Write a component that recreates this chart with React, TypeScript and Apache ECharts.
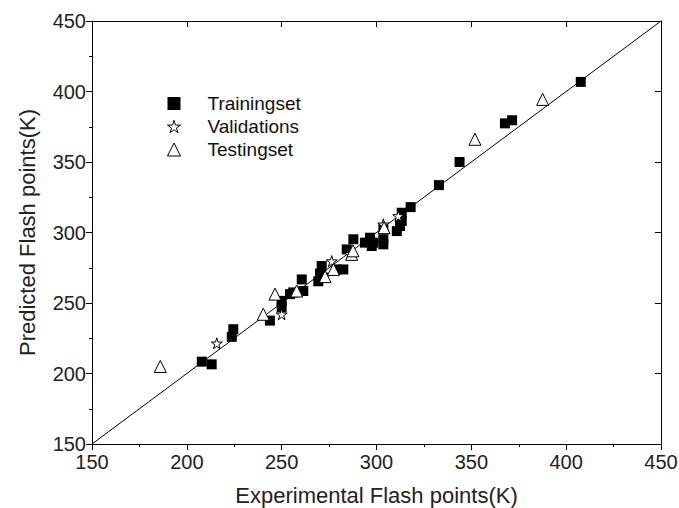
import React, { useEffect, useRef } from "react";
import * as echarts from "echarts";

const trainingSet: number[][] = [
  [207.9, 208.4], [213.1, 206.5], [223.7, 226], [224.5, 231.4], [243.8, 237.5],
  [250, 247], [250, 251.5], [254.4, 256.3], [256.1, 257.5], [260.6, 266.7],
  [261.4, 258.5], [269.3, 265.4], [270.2, 270.9], [271.1, 276.2], [272, 268],
  [279, 273.8], [282.5, 273.8], [284.3, 288], [287.8, 295.2], [293.9, 292.8],
  [296.6, 296.3], [297.5, 290.4], [298.3, 292.8], [303.6, 302.3], [303.6, 295.2],
  [303.6, 291.6], [310.7, 301], [312.4, 304.6], [313.3, 308.2], [313.3, 314],
  [318, 318], [332.9, 333.6], [343.8, 350], [367.7, 377.4], [371.5, 379.6],
  [407.7, 406.8],
];
const validationSet: number[][] = [
  [215.8, 221.4], [250, 242], [276.4, 279.7], [286, 285], [303.6, 305.8], [311.5, 311.7],
];
const testingSet: number[][] = [
  [186, 205], [240.3, 242], [246.5, 256.3], [257.9, 258.5], [272.9, 268.7],
  [277.3, 273.8], [286.9, 284.5], [287.6, 287], [304, 303.4], [351.9, 366.1],
  [387.6, 394.4],
];
const diagonal: number[][] = [[150, 150], [450, 450]];
const axisMin = 150;
const axisMax = 450;
const axisStep = 50;

const STAR = "path://M50,0 L61,35 L98,35 L68,57 L79,91 L50,70 L21,91 L32,57 L2,35 L39,35 Z";
const FONT = "Liberation Sans";

export default function App() {
  const ref = useRef<HTMLDivElement>(null);
  useEffect(() => {
    if (!ref.current) return;
    const chart = echarts.init(ref.current, null, { renderer: "svg" });
    const mainAxis = (name: string, isY: boolean) => ({
      type: "value",
      min: axisMin,
      max: axisMax,
      interval: axisStep,
      name,
      nameLocation: "middle",
      nameGap: isY ? 54 : 40,
      nameTextStyle: { fontSize: 22, color: "#222", fontFamily: FONT },
      axisLine: { show: true, onZero: false, lineStyle: { color: "#000", width: 1 } },
      axisTick: { show: true, inside: false, length: 6, lineStyle: { color: "#000" } },
      minorTick: { show: true, splitNumber: 2, length: 3, lineStyle: { color: "#000" } },
      axisLabel: { fontSize: 20, color: "#222", fontFamily: FONT, margin: isY ? 6 : 8 },
      splitLine: { show: false },
    });
    const mirrorAxis = (pos: string) => ({
      type: "value",
      position: pos,
      min: axisMin,
      max: axisMax,
      interval: axisStep,
      axisLine: { show: true, onZero: false, lineStyle: { color: "#000", width: 1 } },
      axisTick: { show: true, inside: true, length: 6, lineStyle: { color: "#000" } },
      minorTick: { show: false },
      axisLabel: { show: false },
      splitLine: { show: false },
    });
    chart.setOption({
      animation: false,
      backgroundColor: "#fff",
      grid: { left: 92, right: 18, top: 21, bottom: 64, outerBoundsMode: "none", containLabel: false },
      legend: {
        orient: "vertical",
        left: 162,
        top: 89,
        itemWidth: 13,
        itemHeight: 13,
        itemGap: 4,
        textStyle: { fontSize: 19, color: "#111", fontFamily: FONT, padding: [0, 0, 0, 22] },
        data: [
          { name: "Trainingset", icon: "rect", itemStyle: { color: "#000", opacity: 1 } },
          { name: "Validations", icon: STAR, itemStyle: { color: "#fff", borderColor: "#000", borderWidth: 1 } },
          { name: "Testingset", icon: "triangle", itemStyle: { color: "#fff", borderColor: "#000", borderWidth: 1 } },
        ],
      },
      xAxis: [mainAxis("Experimental Flash points(K)", false), mirrorAxis("top")],
      yAxis: [mainAxis("Predicted Flash points(K)", true), mirrorAxis("right")],
      series: [
        {
          type: "line",
          data: diagonal,
          showSymbol: false,
          symbol: "none",
          lineStyle: { color: "#000", width: 1 },
          silent: true,
          z: 1,
        },
        {
          name: "Trainingset",
          type: "scatter",
          data: trainingSet,
          symbol: "rect",
          symbolSize: 10,
          itemStyle: { color: "#000", opacity: 1 },
          z: 2,
        },
        {
          name: "Validations",
          type: "scatter",
          data: validationSet,
          symbol: STAR,
          symbolSize: 11,
          itemStyle: { color: "#fff", borderColor: "#000", borderWidth: 1, opacity: 1 },
          z: 3,
        },
        {
          name: "Testingset",
          type: "scatter",
          data: testingSet,
          symbol: "triangle",
          symbolSize: 12,
          itemStyle: { color: "#fff", borderColor: "#000", borderWidth: 1, opacity: 1 },
          z: 3,
        },
      ],
    });
    return () => chart.dispose();
  }, []);
  return (
    <div
      ref={ref}
      style={{ position: "fixed", left: 0, top: 0, width: 679, height: 508 }}
    />
  );
}
